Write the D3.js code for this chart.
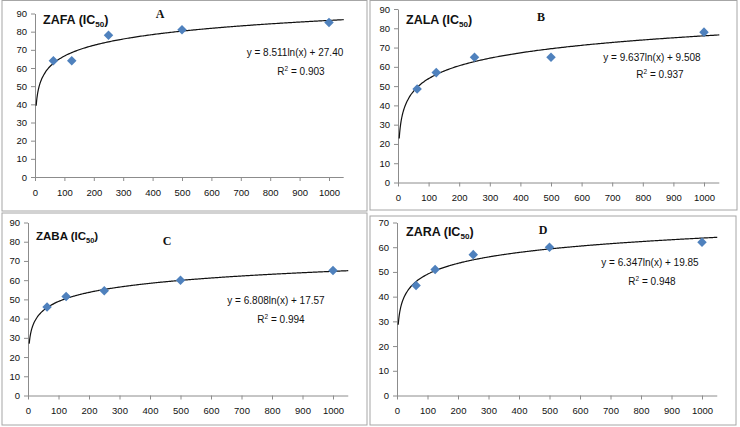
<!DOCTYPE html>
<html>
<head>
<meta charset="utf-8">
<script src="https://cdn.jsdelivr.net/npm/d3@7"></script>
<style>
  body { margin: 0; background: #fff; }
  svg { display: block; font-family: "Liberation Sans", Arial, sans-serif; }
  .tick text { font-size: 9.5px; fill: #111; }
  .domain, .tick line { stroke: #8c8c8c; }
</style>
</head>
<body>
<svg id="chart" width="740" height="427"></svg>
<script>
const concentrations = [62.5, 125, 250, 500, 1000];
const zafaValues = [64, 64, 78, 81, 85];
const zalaValues = [48.5, 57, 65, 65, 78];
const zabaValues = [46, 51.5, 54.5, 60, 65];
const zaraValues = [44.5, 51, 57, 60, 62];
const xTicks = [0, 100, 200, 300, 400, 500, 600, 700, 800, 900, 1000];
const names = ["ZAFA", "ZALA", "ZABA", "ZARA"];
const letters = ["A", "B", "C", "D"];
const slopes = [8.511, 9.637, 6.808, 6.347];
const intercepts = [27.40, 9.508, 17.57, 19.85];
const equations = ["y = 8.511ln(x) + 27.40", "y = 9.637ln(x) + 9.508", "y = 6.808ln(x) + 17.57", "y = 6.347ln(x) + 19.85"];
const rSquared = ["0.903", "0.937", "0.994", "0.948"];
const yMaxes = [90, 90, 90, 70];

const series = [zafaValues, zalaValues, zabaValues, zaraValues];

// layout of each panel (pixels)
const panels = [
  { box: [2, 0.5, 365, 210.5], x0: 35, x1000: 329, yTop: 13.5, yBottom: 177, title: [43, 24], titleSize: 12.5, letter: [160, 18], eq: [295, 56], r2: [301, 75] },
  { box: [370, 0.5, 367, 209.5], x0: 398, x1000: 704, yTop: 9, yBottom: 182.5, title: [406, 24], titleSize: 12.5, letter: [541, 21], eq: [652, 61], r2: [660, 78] },
  { box: [2, 213, 365, 212], x0: 28, x1000: 333, yTop: 222.5, yBottom: 395.5, title: [36, 240], titleSize: 11.5, letter: [167, 245], eq: [276, 304], r2: [281, 323] },
  { box: [370, 216, 366, 209], x0: 397, x1000: 702, yTop: 222.5, yBottom: 395.5, title: [406, 236], titleSize: 12.5, letter: [543, 234], eq: [650, 266], r2: [652, 285] }
];

const svg = d3.select("#chart");

panels.forEach((p, i) => {
  const g = svg.append("g");

  g.append("rect")
    .attr("x", p.box[0]).attr("y", p.box[1])
    .attr("width", p.box[2]).attr("height", p.box[3])
    .attr("fill", "#fff").attr("stroke", "#a6a6a6").attr("stroke-width", 1);

  const xScale = d3.scaleLinear().domain([0, 1000]).range([p.x0, p.x1000]);
  const yScale = d3.scaleLinear().domain([0, yMaxes[i]]).range([p.yBottom, p.yTop]);

  const xAxis = d3.axisBottom(xScale)
    .tickValues(xTicks)
    .tickFormat(d3.format("d"))
    .tickSize(4).tickSizeOuter(0).tickPadding(8);
  const xg = g.append("g")
    .attr("transform", `translate(0, ${p.yBottom})`)
    .call(xAxis);
  // axis line runs a little past 1000
  xg.select(".domain").attr("d", `M${xScale(0)},0.5H${xScale(1050)}`);

  const yAxis = d3.axisLeft(yScale).ticks(yMaxes[i] / 10).tickSize(4).tickSizeOuter(0).tickPadding(4);
  g.append("g")
    .attr("transform", `translate(${p.x0}, 0)`)
    .call(yAxis);

  // logarithmic trend line from the fitted equation
  const xs = d3.range(4, 20, 0.5).concat(d3.range(20, 1051, 5));
  const line = d3.line()
    .x((d) => xScale(d))
    .y((d) => yScale(slopes[i] * Math.log(d) + intercepts[i]))
    .curve(d3.curveBasis);
  g.append("path")
    .datum(xs)
    .attr("d", line)
    .attr("fill", "none")
    .attr("stroke", "#111")
    .attr("stroke-width", 1.2);

  g.selectAll(".pt")
    .data(concentrations.map((c, k) => ({ x: c, y: series[i][k] })))
    .enter()
    .append("path")
    .attr("class", "pt")
    .attr("d", d3.symbol().type(d3.symbolDiamond2).size(58))
    .attr("transform", (d) => `translate(${xScale(d.x)}, ${yScale(d.y)})`)
    .attr("fill", "#4f81bd");

  const title = g.append("text")
    .attr("x", p.title[0]).attr("y", p.title[1])
    .attr("font-size", p.titleSize).attr("font-weight", "bold").attr("fill", "#111");
  title.append("tspan").text(names[i] + " (IC");
  title.append("tspan").attr("font-size", p.titleSize * 0.65).attr("dy", 3).text("50");
  title.append("tspan").attr("dy", -3).text(")");

  g.append("text")
    .attr("x", p.letter[0]).attr("y", p.letter[1])
    .attr("text-anchor", "middle")
    .attr("font-family", "Liberation Serif, Times New Roman, serif")
    .attr("font-weight", "bold").attr("font-size", 12).attr("fill", "#111")
    .text(letters[i]);

  g.append("text")
    .attr("x", p.eq[0]).attr("y", p.eq[1])
    .attr("text-anchor", "middle").attr("font-size", 10).attr("fill", "#111")
    .text(equations[i]);

  const r2 = g.append("text")
    .attr("x", p.r2[0]).attr("y", p.r2[1])
    .attr("text-anchor", "middle").attr("font-size", 10).attr("fill", "#111");
  r2.append("tspan").text("R");
  r2.append("tspan").attr("font-size", 6.5).attr("dy", -4).text("2");
  r2.append("tspan").attr("dy", 4).text(" = " + rSquared[i]);
});
</script>
</body>
</html>
